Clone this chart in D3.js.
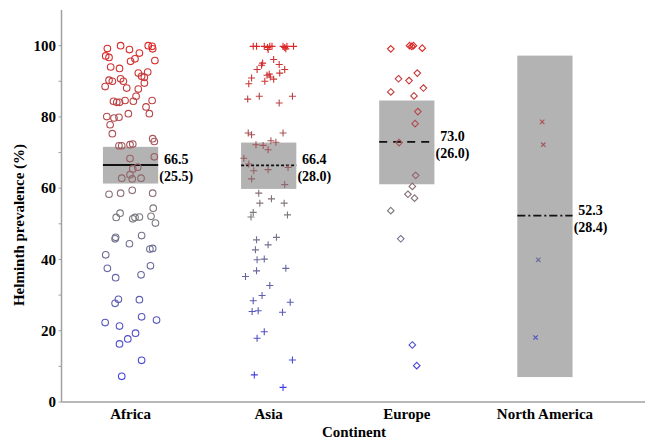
<!DOCTYPE html>
<html>
<head>
<meta charset="utf-8">
<script src="https://cdn.jsdelivr.net/npm/d3@7"></script>
<style>
  body { margin: 0; background: white; }
  text { font-family: "Liberation Serif", "Times New Roman", serif; font-weight: bold; }
</style>
</head>
<body>
<div id="chart"></div>
<script>
const continents = ["Africa", "Asia", "Europe", "North America"]

// [prevalence, horizontal jitter as fraction of box width]
const africa = [
  [99.2,-0.42],[100,-0.18],[98.9,-0.02],[97.9,0.16],[100,0.32],[99.8,0.39],[99.1,0.40],
  [97.1,-0.45],[96.7,-0.39],[96.3,0.08],[95.6,0.00],[95.8,0.44],[94.0,-0.36],[93.6,-0.20],
  [92.3,0.14],[92.6,0.31],[91.4,0.20],[91.1,0.25],[90.3,-0.39],[90.0,-0.33],[90.7,-0.18],
  [90.0,-0.13],[89.5,0.25],[88.5,-0.46],[88.1,-0.07],[87.8,0.14],[85.8,0.10],[84.4,0.05],
  [84.4,-0.31],[84.1,-0.25],[84.1,-0.20],[84.6,-0.10],[84.6,0.39],[82.8,0.28],[80.9,0.34],
  [80.9,-0.04],[80.1,-0.43],[79.7,-0.30],[79.9,-0.21],[77.8,-0.37],[75.3,-0.33],[73.9,0.40],
  [73.1,0.43],[71.9,-0.21],[71.9,-0.16],[72.2,-0.01],[72.4,0.04],[68.3,-0.01],[68.8,0.43],
  [65.4,0.04],[65.9,0.13],[63.8,-0.01],[62.6,0.03],[62.8,-0.16],[62.8,0.19],[58.3,-0.39],
  [58.6,-0.18],[59.4,0.03],[58.6,0.40],[51.8,-0.26],[53.0,-0.19],[51.4,0.04],[51.8,0.08],
  [51.9,0.16],[52.1,0.37],[54.4,0.41],[50.2,0.45],[45.8,-0.28],[46.2,-0.27],[44.4,-0.02],
  [46.7,0.20],[42.9,0.35],[43.1,0.40],[41.3,-0.45],[37.5,-0.42],[34.9,-0.27],[35.7,0.19],
  [38.2,0.36],[28.8,-0.22],[27.7,-0.28],[28.7,0.16],[22.3,-0.46],[21.3,-0.20],[23.9,0.20],
  [23.0,0.47],[19.3,0.09],[17.7,-0.05],[16.3,-0.20],[11.7,0.20],[7.2,-0.16]
]
const asia = [
  [99.8,-0.28],[99.8,-0.22],[99.8,-0.08],[99.5,-0.02],[99.8,0.02],[99.8,0.06],[99.8,0.26],
  [99.5,0.29],[99.8,0.33],[99.8,0.45],[98.9,-0.01],[99.1,0.31],[96.1,0.09],[95.1,-0.11],
  [94.5,-0.13],[94.7,0.19],[93.3,-0.21],[93.3,0.29],[92.0,0.01],[91.7,-0.03],[91.2,0.03],
  [92.3,0.20],[90.9,-0.31],[89.3,-0.36],[90.0,-0.07],[90.6,0.09],[85.0,-0.38],[85.8,-0.17],
  [85.8,0.43],[83.9,0.19],[75.5,-0.37],[75.0,-0.31],[75.5,0.26],[72.2,-0.23],[72.0,-0.10],
  [73.3,0.04],[72.9,0.13],[70.8,-0.01],[68.4,-0.45],[66.8,-0.36],[64.9,-0.27],[65.2,-0.01],
  [65.8,0.35],[62.6,-0.31],[61.0,0.29],[58.6,-0.18],[55.8,-0.16],[57.0,0.05],[55.8,0.28],
  [53.2,-0.28],[51.9,-0.32],[52.5,0.34],[45.5,-0.22],[46.2,0.14],[44.1,-0.01],[42.7,-0.24],
  [39.9,-0.21],[40.1,-0.08],[36.8,-0.22],[35.2,-0.42],[37.5,0.31],[32.7,0.02],[29.9,-0.12],
  [28.4,-0.28],[28.0,0.39],[25.4,-0.30],[25.6,-0.19],[25.2,0.25],[19.7,-0.08],[17.9,-0.21],
  [11.8,0.43],[7.6,-0.26],[4.1,0.26]
]
const europe = [
  [99.1,-0.29],[100,0.05],[99.8,0.09],[100,0.12],[99.3,0.28],[92.3,0.19],[90.7,-0.15],
  [90.2,0.04],[88.1,0.30],[87.0,-0.29],[85.9,0.13],[81.5,0.20],[78.1,0.15],[72.8,-0.14],
  [63.6,0.16],[60.5,0.10],[58.3,0.02],[57.2,0.14],[53.7,-0.29],[45.8,-0.11],[16.0,0.10],
  [10.2,0.18]
]
const northAmerica = [[78.6,-0.05],[72.2,-0.03],[39.9,-0.12],[18.1,-0.17]]

const means = [66.5, 66.4, 73.0, 52.3]
const sds = [25.5, 28.0, 26.0, 28.4]
const ciLow = [61.3, 59.8, 61.1, 7.0]
const ciHigh = [71.6, 72.8, 84.6, 97.2]
const yTicks = [0, 20, 40, 60, 80, 100]

const groups = [africa, asia, europe, northAmerica]
const shapes = ["circle", "plus", "diamond", "cross"]
const dashes = [null, "3,2", "8,6", "8,3,2,3"]

const width = 645, height = 440
const svg = d3.select("#chart").append("svg")
  .attr("width", width).attr("height", height)

const x = d3.scalePoint().domain(continents).range([61.5, 614]).padding(0.5)
const boxW = x.step() * 0.4
const y = d3.scaleLinear().domain([0, 110]).range([402, 10])

const color = d3.scaleLinear()
  .domain([0, 52, 100])
  .range(["#3a3af0", "#7a7a80", "#dc2828"])

// axes
svg.append("line").attr("x1", 61.5).attr("x2", width).attr("y1", 402).attr("y2", 402)
  .attr("stroke", "#a0a0a0").attr("stroke-width", 1.5)
svg.append("line").attr("x1", 61.5).attr("x2", 61.5).attr("y1", 10).attr("y2", 402)
  .attr("stroke", "#a0a0a0").attr("stroke-width", 1.5)

svg.selectAll(".minor")
  .data(d3.range(0, 110, 10))
  .join("line")
    .attr("x1", 58.5).attr("x2", 61.5)
    .attr("y1", d => y(d)).attr("y2", d => y(d))
    .attr("stroke", "#a0a0a0")

svg.selectAll(".ytick")
  .data(yTicks)
  .join("text")
    .attr("x", 56).attr("y", d => y(d)).attr("dy", "0.35em")
    .attr("text-anchor", "end").attr("font-size", 15)
    .text(d => d)

svg.selectAll(".xtick")
  .data(continents)
  .join("text")
    .attr("x", d => x(d)).attr("y", 419)
    .attr("text-anchor", "middle").attr("font-size", 15)
    .text(d => d)

svg.append("text").attr("x", 354).attr("y", 437)
  .attr("text-anchor", "middle").attr("font-size", 15).text("Continent")

svg.append("text")
  .attr("transform", "translate(24,225) rotate(-90)")
  .attr("text-anchor", "middle").attr("font-size", 15)
  .text("Helminth prevalence (%)")

// confidence boxes
svg.selectAll(".box")
  .data(continents)
  .join("rect")
    .attr("x", d => x(d) - boxW / 2)
    .attr("width", boxW)
    .attr("y", (d, i) => y(ciHigh[i]))
    .attr("height", (d, i) => y(ciLow[i]) - y(ciHigh[i]))
    .attr("fill", "#b3b3b3")

// mean lines
svg.selectAll(".mean")
  .data(continents)
  .join("line")
    .attr("x1", d => x(d) - boxW / 2)
    .attr("x2", d => x(d) + boxW / 2)
    .attr("y1", (d, i) => y(means[i]))
    .attr("y2", (d, i) => y(means[i]))
    .attr("stroke", "#111").attr("stroke-width", 1.8)
    .attr("stroke-dasharray", (d, i) => dashes[i])

// mean / sd labels
continents.forEach((c, i) => {
  const t = svg.append("text")
    .attr("text-anchor", "middle").attr("font-size", 14)
  t.append("tspan").attr("x", x(c) + boxW / 2 + 18).attr("y", y(means[i]) - 1)
    .text(means[i].toFixed(1))
  t.append("tspan").attr("x", x(c) + boxW / 2 + 18).attr("y", y(means[i]) + 16)
    .text("(" + sds[i].toFixed(1) + ")")
})

// points
const markPath = {
  plus: "M-3.5,0H3.5M0,-3.5V3.5",
  diamond: "M0,-3.3L3.3,0L0,3.3L-3.3,0Z",
  cross: "M-2.2,-2.2L2.2,2.2M-2.2,2.2L2.2,-2.2"
}

groups.forEach((g, i) => {
  const cx = x(continents[i])
  const sel = svg.append("g")
  if (shapes[i] === "circle") {
    sel.selectAll("circle")
      .data(g)
      .join("circle")
        .attr("cx", d => cx + d[1] * boxW)
        .attr("cy", d => y(d[0]))
        .attr("r", 3.3)
        .attr("fill", "none")
        .attr("stroke", d => color(d[0]))
        .attr("stroke-width", 1.1)
  } else {
    sel.selectAll("path")
      .data(g)
      .join("path")
        .attr("transform", d => `translate(${cx + d[1] * boxW},${y(d[0])})`)
        .attr("d", markPath[shapes[i]])
        .attr("fill", "none")
        .attr("stroke", d => color(d[0]))
        .attr("stroke-width", 1.1)
  }
})
</script>
</body>
</html>
